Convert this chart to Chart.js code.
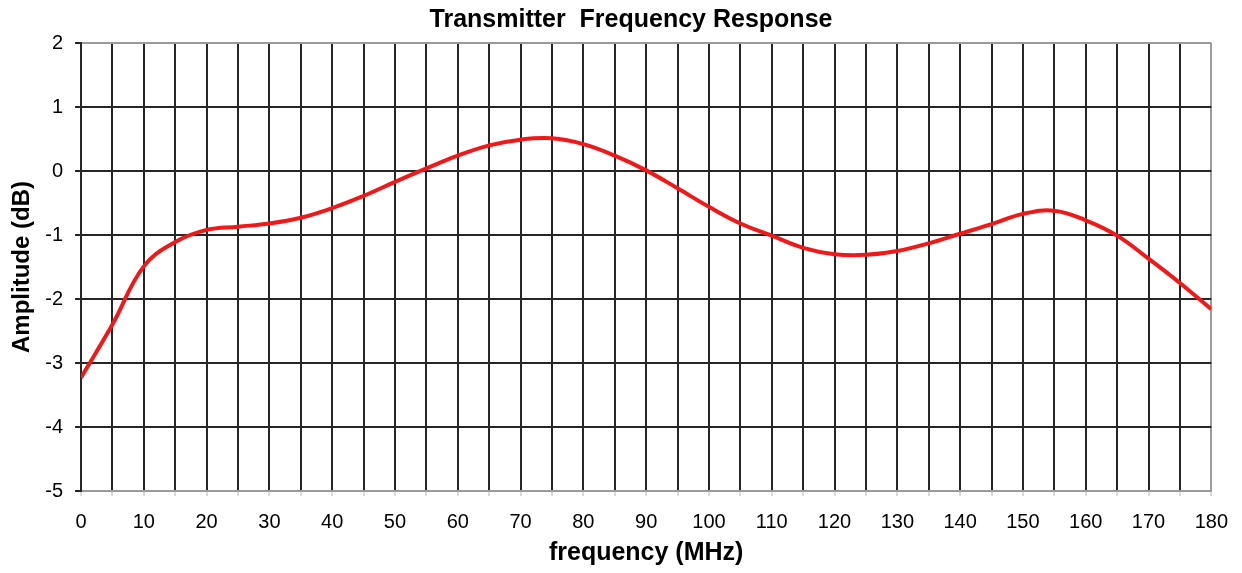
<!DOCTYPE html>
<html>
<head>
<meta charset="utf-8">
<title>Transmitter Frequency Response</title>
<script src="https://cdn.jsdelivr.net/npm/chart.js@4/dist/chart.umd.min.js"></script>
<style>
  html, body { margin: 0; padding: 0; background: #fff; }
  canvas { display: block; }
</style>
</head>
<body>
<canvas id="response-chart" width="1242" height="573"></canvas>
<script>
// Measured response, sampled every 5 MHz
const freqMHz = [0, 5, 10, 15, 20, 25, 30, 35, 40, 45, 50, 55, 60, 65, 70, 75, 80, 85, 90,
  95, 100, 105, 110, 115, 120, 125, 130, 135, 140, 145, 150, 155, 160, 165, 170, 175, 180];
const amplitudeDb = [-3.23, -2.40, -1.49, -1.11, -0.92, -0.87, -0.82, -0.73, -0.58, -0.39,
  -0.17, 0.04, 0.24, 0.40, 0.49, 0.51, 0.42, 0.24, 0.01, -0.27, -0.56, -0.82, -1.01, -1.20,
  -1.30, -1.31, -1.25, -1.13, -0.98, -0.83, -0.67, -0.62, -0.77, -1.01, -1.37, -1.75, -2.16];

// Axis ticks
const freqGrid = freqMHz;                  // vertical grid every 5 MHz
const freqLabelStep = 10;                  // labels every 10 MHz
const ampTicks = [2, 1, 0, -1, -2, -3, -4, -5];

const FONT = "'Liberation Sans', Arial, sans-serif";
const GRID = '#262626';
const EDGE = '#9a9a9a';

const ctx = document.getElementById('response-chart');

new Chart(ctx, {
  type: 'line',
  data: {
    datasets: [{
      label: 'Amplitude',
      data: freqMHz.map((f, i) => ({ x: f, y: amplitudeDb[i] })),
      borderColor: '#f21818',
      borderWidth: 4,
      pointRadius: 0,
      fill: false,
      tension: 0.4
    }]
  },
  options: {
    responsive: false,
    animation: false,
    events: [],
    layout: { padding: { left: 20, right: 0, top: 0, bottom: 0 } },
    plugins: {
      legend: { display: false },
      tooltip: { enabled: false },
      title: {
        display: true,
        text: 'Transmitter  Frequency Response',
        color: '#000',
        font: { family: FONT, size: 25, weight: 'bold' },
        padding: { top: 5, bottom: 8 }
      }
    },
    scales: {
      x: {
        type: 'linear',
        min: 0,
        max: 180,
        afterBuildTicks: axis => { axis.ticks = freqGrid.map(v => ({ value: v })); },
        afterFit: axis => { axis.height = 82; },
        ticks: {
          autoSkip: false,
          maxRotation: 0,
          padding: 14,
          color: '#000',
          font: { family: FONT, size: 20 },
          callback: v => (v % freqLabelStep === 0 ? v : '')
        },
        grid: {
          lineWidth: 2,
          tickLength: 5,
          color: c => (c.tick && c.tick.value === 180 ? EDGE : GRID),
          tickColor: '#dcdcdc'
        },
        border: { display: true, color: EDGE, width: 2 },
        title: {
          display: true,
          text: 'frequency (MHz)',
          color: '#000',
          font: { family: FONT, size: 25, weight: 'bold' },
          padding: { top: 0, bottom: 5 }
        }
      },
      y: {
        min: -5,
        max: 2,
        afterBuildTicks: axis => { axis.ticks = ampTicks.map(v => ({ value: v })); },
        afterFit: axis => { axis.width = 61; },
        ticks: {
          padding: 12,
          color: '#000',
          font: { family: FONT, size: 20 }
        },
        grid: {
          lineWidth: 2,
          tickLength: 6,
          color: c => (c.tick && (c.tick.value === 2 || c.tick.value === -5) ? EDGE : GRID),
          tickColor: GRID
        },
        border: { display: true, color: GRID, width: 2 },
        title: {
          display: true,
          text: 'Amplitude (dB)',
          color: '#000',
          font: { family: FONT, size: 24, weight: 'bold' },
          padding: { top: -12, bottom: 0 }
        }
      },
      // spacer on the right so the plot ends where the grid ends
      spacer: {
        type: 'linear',
        position: 'right',
        display: true,
        ticks: { display: false },
        grid: { display: false },
        border: { display: false },
        afterFit: axis => { axis.width = 26; }
      }
    }
  }
});
</script>
</body>
</html>
